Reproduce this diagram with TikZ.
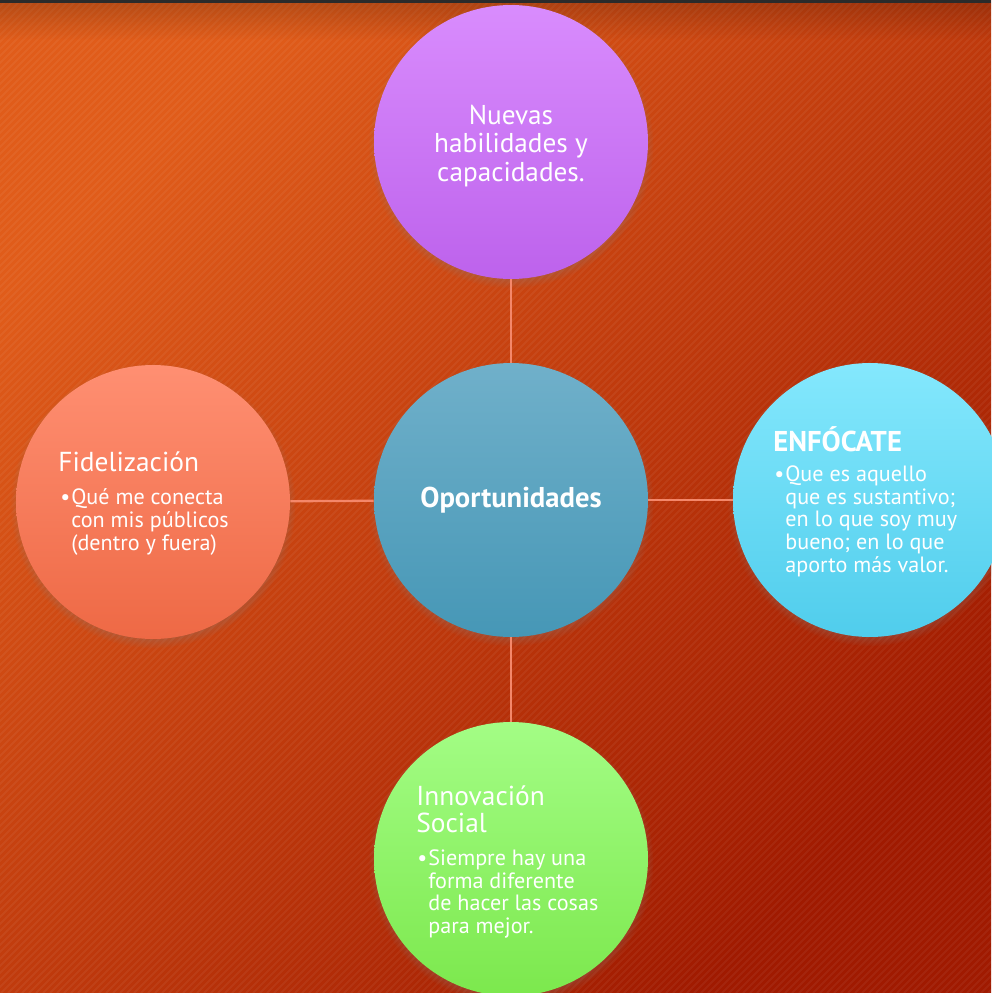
\documentclass[tikz,border=0pt]{standalone}
\usepackage{fontspec}
\setmainfont{PT Sans}
\usetikzlibrary{shadows,fadings}
\definecolor{bgA}{HTML}{E05C1A}
\definecolor{bgB}{HTML}{A01A00}
\definecolor{topbar}{HTML}{2B2B2B}
\definecolor{pA}{HTML}{D98CFD}
\definecolor{pB}{HTML}{BD62EC}
\definecolor{bA}{HTML}{70B0CA}
\definecolor{bB}{HTML}{4697B6}
\definecolor{sA}{HTML}{FF8F72}
\definecolor{sB}{HTML}{EE6945}
\definecolor{cA}{HTML}{84E8FD}
\definecolor{cB}{HTML}{50CDEC}
\definecolor{gA}{HTML}{A3FD85}
\definecolor{gB}{HTML}{7CE84D}
\definecolor{linkc}{HTML}{F4876A}
\begin{document}
\begin{tikzpicture}[x=0.02cm,y=-0.02cm,
  bubble/.style={circle, minimum size=5.48cm, inner sep=0pt, draw=none, text=white,
    circular drop shadow={shadow xshift=0pt, shadow yshift=-2pt, opacity=0.6, shadow scale=1.04}},
  link/.style={draw=linkc, line width=1.3pt},
  txt/.style={text=white, inner sep=0pt, align=left, anchor=west},
  ttl/.style={font=\fontsize{15.6}{15.4}\selectfont},
  ttlb/.style={font=\fontsize{16.3}{16}\selectfont\bfseries},
  bul/.style={font=\fontsize{12.6}{12.9}\selectfont}
]
\useasboundingbox (0,0) rectangle (991,993);
% background
\shade[top color=bgA, bottom color=bgB, shading angle=45] (0,0) rectangle (991,993);
\begin{scope}
\clip (0,0) rectangle (991,993);
\foreach \i in {0,7,...,1995} {
  \draw[white, opacity=0.05, line width=1.1pt] (\i,0) -- (\i-993,993);
}
\end{scope}
\fill[black, opacity=0.18, path fading=south] (0,3) rectangle (991,40);
\fill[topbar] (0,0) rectangle (991,3);

% circles
\node[bubble, top color=pA, bottom color=pB] (top) at (511,142) {};
\node[bubble, top color=bA, bottom color=bB,
      font=\fontsize{16.3}{17}\selectfont\bfseries] (hub) at (511,500) {Oportunidades};
\node[bubble, top color=sA, bottom color=sB] (left) at (153,502) {};
\node[bubble, top color=cA, bottom color=cB] (right) at (870,500) {};
\node[bubble, top color=gA, bottom color=gB] (bottom) at (511,859) {};

% connectors
\draw[link] (top) -- (hub);
\draw[link] (left) -- (hub);
\draw[link] (hub) -- (right);
\draw[link] (hub) -- (bottom);

% texts
\node[text=white, inner sep=0pt, align=center, font=\fontsize{15.5}{16}\selectfont]
      (toptext) at (511,146) {Nuevas\\habilidades y\\capacidades.};

\node[txt, ttl] (ltitle) at (58,462) {Fidelización};
\node[txt, bul] (lbul) at (71,522) {\llap{\textbullet\hspace{0.6pt}}Qué me conecta\\con mis públicos\\(dentro y fuera)};

\node[txt, ttlb] (rtitle) at (773,439) {ENFÓCATE};
\node[txt, bul] (rbul) at (785,521) {\llap{\textbullet\hspace{0.6pt}}Que es aquello\\que es sustantivo;\\en lo que soy muy\\bueno; en lo que\\aporto más valor.};

\node[txt, ttl] (btitle) at (416,809) {Innovación\\Social};
\node[txt, bul] (bbul) at (428,894) {\llap{\textbullet\hspace{0.6pt}}Siempre hay una\\forma diferente\\de hacer las cosas\\para mejor.};
\end{tikzpicture}
\end{document}
